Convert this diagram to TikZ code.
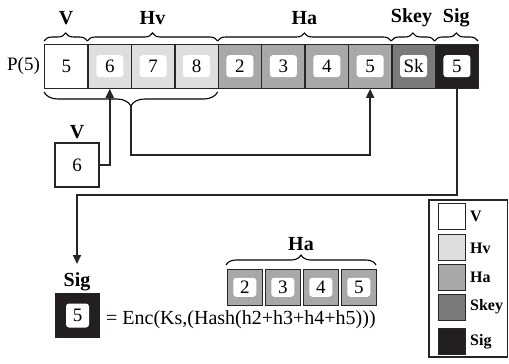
\documentclass[tikz,border=0pt]{standalone}
\usepackage{fontspec}
\setmainfont{Liberation Serif}
\usetikzlibrary{decorations.pathreplacing,arrows.meta}
\definecolor{hvgray}{HTML}{DEDEDE}
\definecolor{hagray}{HTML}{A8A8A8}
\definecolor{skgray}{HTML}{7A7A7A}
\definecolor{sigblack}{HTML}{231F20}
\definecolor{edge}{HTML}{262626}
\begin{document}
\begin{tikzpicture}[x=1pt,y=-1pt,
  cell/.style={draw=edge, line width=1.3pt, minimum width=43.4pt, minimum height=44pt,
    inner sep=0pt, anchor=north west, font=\fontsize{19}{22}\selectfont},
  chip/.style={fill=white, rounded corners=3pt, minimum width=27pt, minimum height=22pt,
    inner sep=0pt, font=\fontsize{19}{22}\selectfont},
  smallcell/.style={draw=edge, line width=1.5pt, fill=hagray, minimum width=35pt,
    minimum height=36pt, inner sep=0pt, anchor=north west},
  smallchip/.style={fill=white, rounded corners=3pt, minimum width=23pt, minimum height=19pt,
    inner sep=0pt, font=\fontsize{19}{22}\selectfont},
  tag/.style={font=\fontsize{20}{23}\selectfont\bfseries, inner sep=0pt},
  legtag/.style={font=\fontsize{16}{19}\selectfont\bfseries, inner sep=0pt, anchor=west},
  swatch/.style={draw=edge, line width=1.3pt, minimum width=27pt, minimum height=26pt,
    inner sep=0pt, anchor=north west},
  topbrace/.style={decorate, decoration={brace, amplitude=8pt}, line width=1.1pt},
  conn/.style={line width=1.8pt, draw=edge},
  arr/.style={conn, -{Triangle[length=9pt,width=8pt]}}]
\useasboundingbox (0,0) rectangle (509,364);

% row label
\node[font=\fontsize{19}{22}\selectfont, inner sep=0pt] (plabel) at (23.5,65.5) {P(5)};

% packet cells
\node[cell] (v5) at (44,43.5) {5};
\node[cell, fill=hvgray] (hv6) at (87.4,43.5) {};
\node[cell, fill=hvgray] (hv7) at (130.8,43.5) {};
\node[cell, fill=hvgray] (hv8) at (174.2,43.5) {};
\node[cell, fill=hagray] (ha2) at (217.6,43.5) {};
\node[cell, fill=hagray] (ha3) at (261,43.5) {};
\node[cell, fill=hagray] (ha4) at (304.4,43.5) {};
\node[cell, fill=hagray] (ha5) at (347.8,43.5) {};
\node[cell, fill=skgray] (sk) at (391.2,43.5) {};
\node[cell, fill=sigblack] (sg) at (434.6,43.5) {};
\node[chip] (hv6c) at (hv6.center) {6};
\node[chip] (hv7c) at (hv7.center) {7};
\node[chip] (hv8c) at (hv8.center) {8};
\node[chip] (ha2c) at (ha2.center) {2};
\node[chip] (ha3c) at (ha3.center) {3};
\node[chip] (ha4c) at (ha4.center) {4};
\node[chip] (ha5c) at (ha5.center) {5};
\node[chip] (skc) at (sk.center) {Sk};
\node[chip] (sgc) at (sg.center) {5};

% field braces and names
\draw[topbrace] (44,41) -- (87.4,41);
\draw[topbrace] (87.4,41) -- (217.6,41);
\draw[topbrace] (217.6,41) -- (391.2,41);
\draw[topbrace] (391.2,41) -- (434.6,41);
\draw[topbrace] (434.6,41) -- (478,41);
\node[tag] (tv) at (66,18) {V};
\node[tag] (thv) at (152.5,18) {Hv};
\node[tag] (tha) at (304.4,18) {Ha};
\node[tag] (tsk) at (411.5,18) {Skey};
\node[tag] (tsg) at (456.3,18) {Sig};

% brace under the V and Hv fields
\draw[decorate, decoration={brace, amplitude=14pt}, line width=1.1pt] (217.6,92) -- (44,92);
\coordinate (btip) at (130.8,106);

% standalone V field
\node[draw=edge, line width=1.3pt, minimum width=44pt, minimum height=44pt, inner sep=0pt,
  font=\fontsize{19}{22}\selectfont] (vbox) at (77,165) {6};
\node[tag] (vboxtag) at (77,132) {V};

% connectors
\draw[arr] (vbox.east) -| (hv6.south);
\draw[arr] (btip) -- ++(0,49) -| (ha5.south);
\coordinate (sigin) at (77,264);
\draw[arr] (sg.south) -- ++(0,106.5) -| (sigin);

% signature
\node[tag] (sigtag) at (77,282) {Sig};
\node[fill=sigblack, minimum width=45pt, minimum height=45pt, inner sep=0pt] (sigbox) at (77.5,315.5) {};
\node[smallchip, minimum height=24pt] (sigchip) at (sigbox.center) {5};
\node[font=\fontsize{20}{23}\selectfont, anchor=west, inner sep=0pt] (eq) at (106,320)
  {= Enc(Ks,(Hash(h2+h3+h4+h5)))};

% hashed fields
\node[smallcell] (b2) at (226.5,268.5) {};
\node[smallcell] (b3) at (264.5,268.5) {};
\node[smallcell] (b4) at (302.5,268.5) {};
\node[smallcell] (b5) at (340.5,268.5) {};
\node[smallchip] at (b2.center) {2};
\node[smallchip] at (b3.center) {3};
\node[smallchip] at (b4.center) {4};
\node[smallchip] at (b5.center) {5};
\draw[decorate, decoration={brace, amplitude=10pt}, line width=1.1pt] (226,265) -- (376,265);
\node[tag] (hatag) at (301,244) {Ha};

% legend
\draw[line width=1.1pt, draw=edge] (429,200) rectangle (507.5,357);
\node[swatch, fill=white] (lv) at (437.5,203) {};
\node[swatch, fill=hvgray] (lhv) at (437.5,233.5) {};
\node[swatch, fill=hagray] (lha) at (437.5,264) {};
\node[swatch, fill=skgray] (lsk) at (437.5,293.5) {};
\node[swatch, fill=sigblack] (lsg) at (437.5,327.5) {};
\node[legtag] at (470,216.5) {V};
\node[legtag] at (470,248) {Hv};
\node[legtag] at (470,277.5) {Ha};
\node[legtag] at (470,307) {Skey};
\node[legtag] at (470,341.5) {Sig};
\end{tikzpicture}
\end{document}
